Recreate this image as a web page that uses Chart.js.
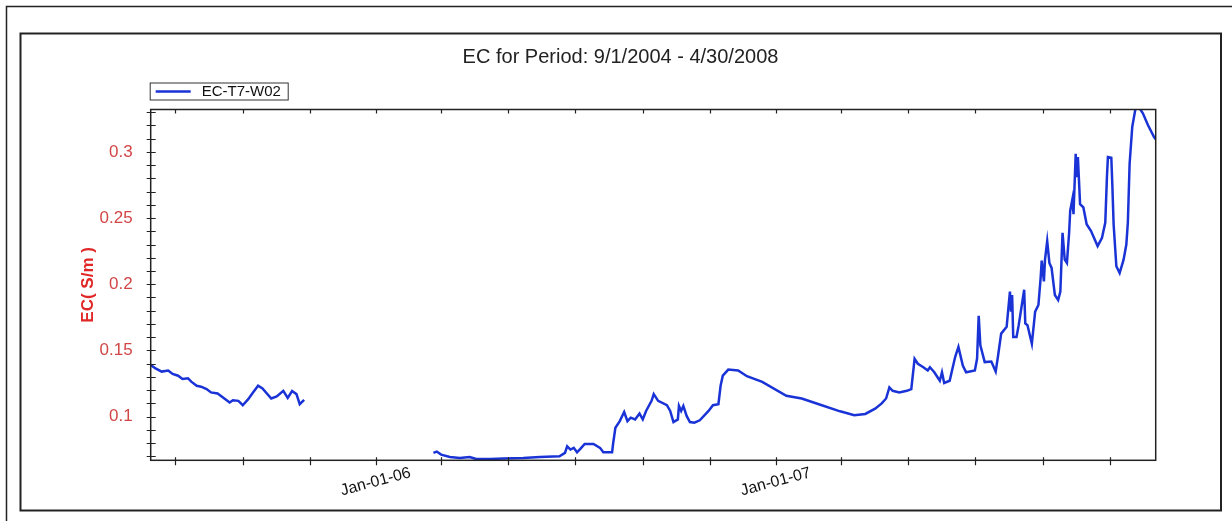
<!DOCTYPE html>
<html>
<head>
<meta charset="utf-8">
<title>EC for Period</title>
<script src="https://cdn.jsdelivr.net/npm/chart.js@4"></script>
<style>
  html, body { margin: 0; padding: 0; background: #fff; }
  #wrap { width: 1232px; height: 521px; }
</style>
</head>
<body>
<div id="wrap"><canvas id="ecChart" width="1232" height="521"></canvas></div>
<script>
const chartTitle = 'EC for Period: 9/1/2004 - 4/30/2008';
const seriesName = 'EC-T7-W02';
const yTitle = 'EC( S/m )';

// x = days counted from Jan-01-06, null = no record (gap in the logger)
const dayOffsets = [
  -206, -202, -196, -190, -186, -181, -177, -172, -169, -164, -160, -155, -151, -145, -140,
  -134, -131, -126, -122, -117, -113, -108, -104, -96, -91, -85, -81, -77, -73, -70, -66,
  -10,
  52, 55, 59, 67, 76, 85, 91, 104, 116, 134, 149, 167, 172, 174, 177, 180, 183, 186, 190,
  198, 204, 207, 215, 216, 218, 222, 226, 229, 232, 236, 240, 243, 246, 251, 253, 257,
  265, 268, 271, 275, 276, 278, 280, 283, 286, 290, 295, 303, 307, 312, 314, 316, 321,
  330, 338, 352, 374, 388, 405, 423, 436, 446, 455, 461, 465, 468, 471, 477, 484, 488,
  491, 494, 499, 503, 505, 509, 514, 516, 518, 523, 528, 531, 535, 538, 546, 548, 549.5,
  551, 555, 561, 565, 567, 570, 575, 578, 579, 580, 581, 584, 586, 591, 592, 594, 598,
  601, 604, 606, 607, 609, 610, 612, 614, 616, 619, 622, 624, 626, 628, 630, 632, 633,
  635, 636, 638, 639, 640, 642, 645, 648, 652, 658, 662, 665, 666.5, 667.4, 670.5, 671.4,
  672.6, 675.1, 678.1, 681.7, 684.2, 685.6, 687.2, 689.6, 692.6, 695.7, 699.3, 703.9,
  709.4, 711
];
const ecValues = [
  0.1391, 0.1366, 0.1340, 0.1348, 0.1322, 0.1309, 0.1284, 0.1290, 0.1264, 0.1233, 0.1226,
  0.1208, 0.1183, 0.1175, 0.1145, 0.1107, 0.1124, 0.1119, 0.1086, 0.1132, 0.1178, 0.1233,
  0.1213, 0.1137, 0.1152, 0.1195, 0.1142, 0.1193, 0.1170, 0.1094, 0.1127,
  null,
  0.0726, 0.0736, 0.0713, 0.0695, 0.0688, 0.0695, 0.0680, 0.0680, 0.0684, 0.0688, 0.0695,
  0.0700, 0.0726, 0.0776, 0.0751, 0.0764, 0.0730, 0.0756, 0.0794, 0.0794, 0.0764, 0.0730,
  0.0730, 0.0801, 0.0916, 0.0966, 0.1035, 0.0966, 0.0992, 0.0979, 0.1023, 0.0979, 0.1043,
  0.1119, 0.1170, 0.1119, 0.1086, 0.1043, 0.0959, 0.0979, 0.1081, 0.1043, 0.1081, 0.1005,
  0.0959, 0.0954, 0.0972, 0.1043, 0.1086, 0.1094, 0.1233, 0.1309, 0.1355, 0.1348, 0.1305,
  0.1263, 0.1157, 0.1137, 0.109, 0.104, 0.101, 0.102, 0.106, 0.110, 0.1137, 0.1221, 0.1195,
  0.1183, 0.1195, 0.1208, 0.1437, 0.1399, 0.1373, 0.1348, 0.1373, 0.1335, 0.1271, 0.1335,
  0.1254, 0.1271, 0.1450, 0.1526, 0.1386, 0.1335, 0.1348, 0.1437, 0.1762, 0.1538, 0.1412,
  0.1416, 0.1340, 0.1450, 0.1627, 0.1678, 0.1945, 0.1793, 0.1919, 0.1602, 0.1602, 0.1691,
  0.1958, 0.1704, 0.1691, 0.1551, 0.1793, 0.1843, 0.2046, 0.2178, 0.2021, 0.2186, 0.2326,
  0.2161, 0.2123, 0.1919, 0.1881, 0.1945, 0.2389, 0.2186, 0.2161, 0.2389, 0.2555, 0.2643,
  0.2529, 0.2986, 0.2809, 0.2961, 0.2605, 0.2580, 0.2453, 0.2402, 0.2288, 0.2351, 0.2466,
  0.2809, 0.2961, 0.2956, 0.2758, 0.2453, 0.2136, 0.2085, 0.2186, 0.2300, 0.2466, 0.2910,
  0.3189, 0.3329, 0.3337, 0.3291, 0.3203, 0.3114, 0.3095
];

// tick marks every two months, labels only on January
const xTickMonths = ['2005-07', '2005-09', '2005-11', '2006-01', '2006-03', '2006-05', '2006-07',
  '2006-09', '2006-11', '2007-01', '2007-03', '2007-05', '2007-07', '2007-09', '2007-11'];
const yTickValues = [0.07, 0.08, 0.09, 0.1, 0.11, 0.12, 0.13, 0.14, 0.15, 0.16, 0.17, 0.18, 0.19,
  0.2, 0.21, 0.22, 0.23, 0.24, 0.25, 0.26, 0.27, 0.28, 0.29, 0.3, 0.31, 0.32, 0.33];
const yLabelValues = [0.1, 0.15, 0.2, 0.25, 0.3];

function dayOf(ym) {
  const [y, m] = ym.split('-').map(Number);
  return (Date.UTC(y, m - 1, 1) - Date.UTC(2006, 0, 1)) / 86400000;
}
const xTickDays = xTickMonths.map(dayOf);
const xTickLabels = xTickMonths.map(function(ym) {
  const [y, m] = ym.split('-');
  return m === '01' ? 'Jan-01-' + y.slice(2) : '';
});

const points = dayOffsets.map((d, i) => ({x: d, y: ecValues[i]}));
const fontFamily = '"Liberation Sans", Arial, sans-serif';

// the two outer frames of the report page
const framePlugin = {
  id: 'frames',
  beforeDraw(chart) {
    const ctx = chart.ctx;
    ctx.save();
    ctx.fillStyle = '#fff';
    ctx.fillRect(0, 0, chart.width, chart.height);
    ctx.strokeStyle = '#222';
    ctx.lineWidth = 1.5;
    ctx.beginPath();
    ctx.moveTo(6.5, chart.height);
    ctx.lineTo(6.5, 6.5);
    ctx.lineTo(chart.width, 6.5);
    ctx.stroke();
    ctx.lineWidth = 2;
    ctx.strokeRect(20.5, 33.5, 1200.5, 477);
    ctx.restore();
  }
};

// box round the plot plus cross-shaped tick marks
const axisPlugin = {
  id: 'axisMarks',
  afterDatasetsDraw(chart) {
    const {ctx, chartArea: a, scales} = chart;
    ctx.save();
    ctx.strokeStyle = '#222';
    ctx.lineWidth = 1.5;
    ctx.strokeRect(a.left, a.top, a.right - a.left, a.bottom - a.top);
    ctx.lineWidth = 1.2;
    ctx.beginPath();
    scales.y.ticks.forEach(t => {
      const py = Math.round(scales.y.getPixelForValue(t.value)) + 0.5;
      ctx.moveTo(a.left - 4, py);
      ctx.lineTo(a.left + 5, py);
    });
    scales.x.ticks.forEach(t => {
      const px = Math.round(scales.x.getPixelForValue(t.value)) + 0.5;
      ctx.moveTo(px, a.bottom - 3);
      ctx.lineTo(px, a.bottom + 5);
      ctx.moveTo(px, a.top);
      ctx.lineTo(px, a.top + 4);
    });
    ctx.stroke();
    ctx.restore();
  }
};

// small boxed legend sitting on the top-left of the plot
const legendPlugin = {
  id: 'boxLegend',
  afterDraw(chart) {
    const {ctx, chartArea: a} = chart;
    const ds = chart.data.datasets[0];
    const top = a.top - 27;
    ctx.save();
    ctx.strokeStyle = '#333';
    ctx.lineWidth = 1;
    ctx.strokeRect(a.left - 0.5, top + 0.5, 138, 17);
    ctx.strokeStyle = ds.borderColor;
    ctx.lineWidth = 2.5;
    ctx.beginPath();
    ctx.moveTo(a.left + 5, top + 9);
    ctx.lineTo(a.left + 40, top + 9);
    ctx.stroke();
    ctx.fillStyle = '#111';
    ctx.font = '15px ' + fontFamily;
    ctx.textBaseline = 'middle';
    ctx.fillText(ds.label, a.left + 51, top + 9.5);
    ctx.restore();
  }
};

const ctx = document.getElementById('ecChart').getContext('2d');
const ecChart = new Chart(ctx, {
  type: 'line',
  data: {
    datasets: [{
      label: seriesName,
      data: points,
      borderColor: '#1a33d6',
      borderWidth: 2.5,
      pointRadius: 0,
      tension: 0,
      spanGaps: false
    }]
  },
  options: {
    responsive: false,
    animation: false,
    layout: { padding: { left: 20, right: 11, top: 0, bottom: 0 } },
    plugins: {
      legend: { display: false },
      tooltip: { enabled: false },
      title: {
        display: true,
        text: chartTitle,
        color: '#222',
        font: { family: fontFamily, size: 20, weight: 'normal' },
        padding: { top: 45, bottom: 40.5 }
      }
    },
    scales: {
      x: {
        type: 'linear',
        min: -206,
        max: 711,
        grid: { display: false },
        border: { display: false },
        afterBuildTicks(scale) {
          scale.ticks = xTickDays.map(v => ({value: v}));
        },
        afterFit(scale) { scale.height = 60.7; },
        ticks: {
          autoSkip: false,
          minRotation: 15,
          maxRotation: 15,
          labelOffset: 34,
          padding: -5,
          color: '#111',
          font: { family: fontFamily, size: 16 },
          callback: function(value) {
            const i = xTickDays.indexOf(value);
            return i >= 0 ? xTickLabels[i] : '';
          }
        }
      },
      y: {
        type: 'linear',
        min: 0.067,
        max: 0.332,
        grid: { display: false },
        border: { display: false },
        afterBuildTicks(scale) {
          scale.ticks = yTickValues.map(v => ({value: v}));
        },
        afterFit(scale) { scale.width = 130.7; },
        ticks: {
          autoSkip: false,
          padding: 10,
          color: '#d24646',
          font: { family: fontFamily, size: 17 },
          callback: function(value) {
            return yLabelValues.some(v => Math.abs(v - value) < 1e-6) ? String(value) : '';
          }
        },
        title: {
          display: true,
          text: yTitle,
          color: '#e02626',
          font: { family: fontFamily, size: 17, weight: 'bold' },
          padding: { top: 57.8, bottom: 0 }
        }
      },
      yRight: {
        type: 'linear',
        position: 'right',
        grid: { display: false },
        border: { display: false },
        ticks: { display: false },
        afterFit(scale) { scale.width = 65.3; }
      }
    }
  },
  plugins: [framePlugin, axisPlugin, legendPlugin]
});
</script>
</body>
</html>
